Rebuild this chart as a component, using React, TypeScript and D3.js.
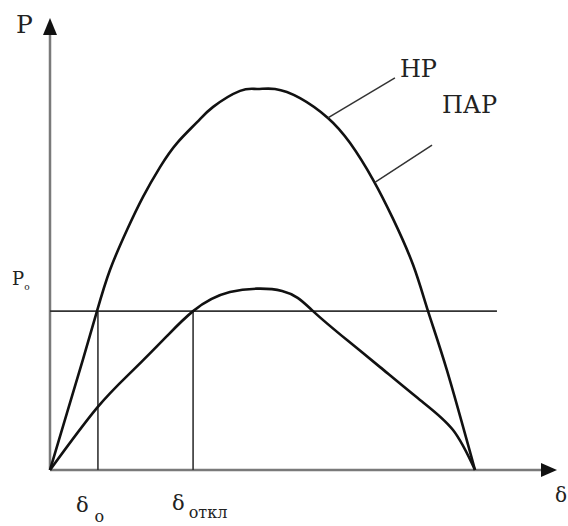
import React from 'react';
import * as d3 from 'd3';

// power-angle curves (δ in degrees, P in units of Pmax of НР)
const normalDelta = [0, 7.2, 14, 19.9, 25.4, 32.6, 39.4, 46.6, 53.8, 62.3, 69.1, 80.5, 87.7, 95.3, 105.9, 117.7, 127.1, 136.9, 145.3, 153.8, 160.1, 168.1, 180];
const normalP = [0, 0.15, 0.291, 0.417, 0.525, 0.63, 0.717, 0.795, 0.858, 0.913, 0.953, 0.995, 1.0, 1.0, 0.976, 0.924, 0.858, 0.761, 0.659, 0.538, 0.417, 0.262, 0];

const postDelta = [0, 19.9, 35.2, 49.6, 60.6, 76.2, 98.3, 111.4, 125.8, 139.8, 156.7, 170.7, 180];
const postP = [0, 0.163, 0.262, 0.352, 0.417, 0.467, 0.47, 0.417, 0.341, 0.27, 0.184, 0.105, 0];

const P0 = 0.417;
const delta0 = 20.3;
const deltaOff = 60.6;

const curveLabels = ['НР', 'ПАР'];
// leader line: point on the curve -> end near the text
const leaderFrom = [[117.7, 0.924], [137.6, 0.755]];
const leaderTo = [[146.1, 1.029], [161.8, 0.853]];
const labelAt = [[148.2, 1.031], [166, 0.937]];

const W = 568, H = 526;

export default function App() {
  const x = d3.scaleLinear().domain([0, 180]).range([50, 475]);
  const y = d3.scaleLinear().domain([0, 1]).range([470, 89]);

  const line = d3.line<[number, number]>()
    .x(d => x(d[0]))
    .y(d => y(d[1]))
    .curve(d3.curveNatural);

  const normalPts = normalDelta.map((d, i) => [d, normalP[i]] as [number, number]);
  const postPts = postDelta.map((d, i) => [d, postP[i]] as [number, number]);

  const xEnd = x.invert(557);
  const yTop = y.invert(18);
  const font = "'DejaVu Serif', serif";

  return (
    <svg width={W} height={H} style={{ position: 'absolute', left: 0, top: 0, background: '#fff' }}>
      {/* axes */}
      <line x1={x(0)} y1={y(0)} x2={x(xEnd) - 12} y2={y(0)} stroke="#7a7a7a" strokeWidth={2.5} />
      <path d={`M${x(xEnd)},${y(0)} L${x(xEnd) - 16},${y(0) - 7} L${x(xEnd) - 16},${y(0) + 7} Z`} fill="#111" />
      <line x1={x(0)} y1={y(0)} x2={x(0)} y2={y(yTop) + 12} stroke="#7a7a7a" strokeWidth={2.5} />
      <path d={`M${x(0)},${y(yTop)} L${x(0) - 7},${y(yTop) + 17} L${x(0) + 7},${y(yTop) + 17} Z`} fill="#111" />

      {/* P0 level and angle markers */}
      <line x1={x(0)} y1={y(P0)} x2={x(189.3)} y2={y(P0)} stroke="#333" strokeWidth={1.6} />
      <line x1={x(delta0)} y1={y(P0)} x2={x(delta0)} y2={y(0)} stroke="#333" strokeWidth={1.6} />
      <line x1={x(deltaOff)} y1={y(P0)} x2={x(deltaOff)} y2={y(0)} stroke="#333" strokeWidth={1.6} />

      {/* curves */}
      <path d={line(normalPts) || ''} fill="none" stroke="#111" strokeWidth={2.6} />
      <path d={line(postPts) || ''} fill="none" stroke="#111" strokeWidth={2.6} />

      {/* curve labels */}
      {curveLabels.map((t, i) => (
        <g key={t}>
          <line x1={x(leaderFrom[i][0])} y1={y(leaderFrom[i][1])} x2={x(leaderTo[i][0])} y2={y(leaderTo[i][1])}
            stroke="#333" strokeWidth={1.5} />
          <text x={x(labelAt[i][0])} y={y(labelAt[i][1])} fontFamily={font} fontSize={24} fill="#222">{t}</text>
        </g>
      ))}

      {/* axis labels */}
      <text x={16} y={33} fontFamily={font} fontSize={25} fill="#222">P</text>
      <text x={12} y={285} fontFamily={font} fontSize={18} fill="#222">P<tspan fontSize={9} dy={5}>o</tspan></text>
      <text x={555} y={502} fontFamily={font} fontSize={20} fill="#222">δ</text>
      <text x={x(delta0) - 22} y={512} fontFamily={font} fontSize={21} fill="#222">δ
        <tspan fontSize={16} dx={6} dy={10}>о</tspan></text>
      <text x={x(deltaOff) - 21} y={510} fontFamily={font} fontSize={21} fill="#222">δ
        <tspan fontSize={16} dx={4} dy={8}>откл</tspan></text>
    </svg>
  );
}
